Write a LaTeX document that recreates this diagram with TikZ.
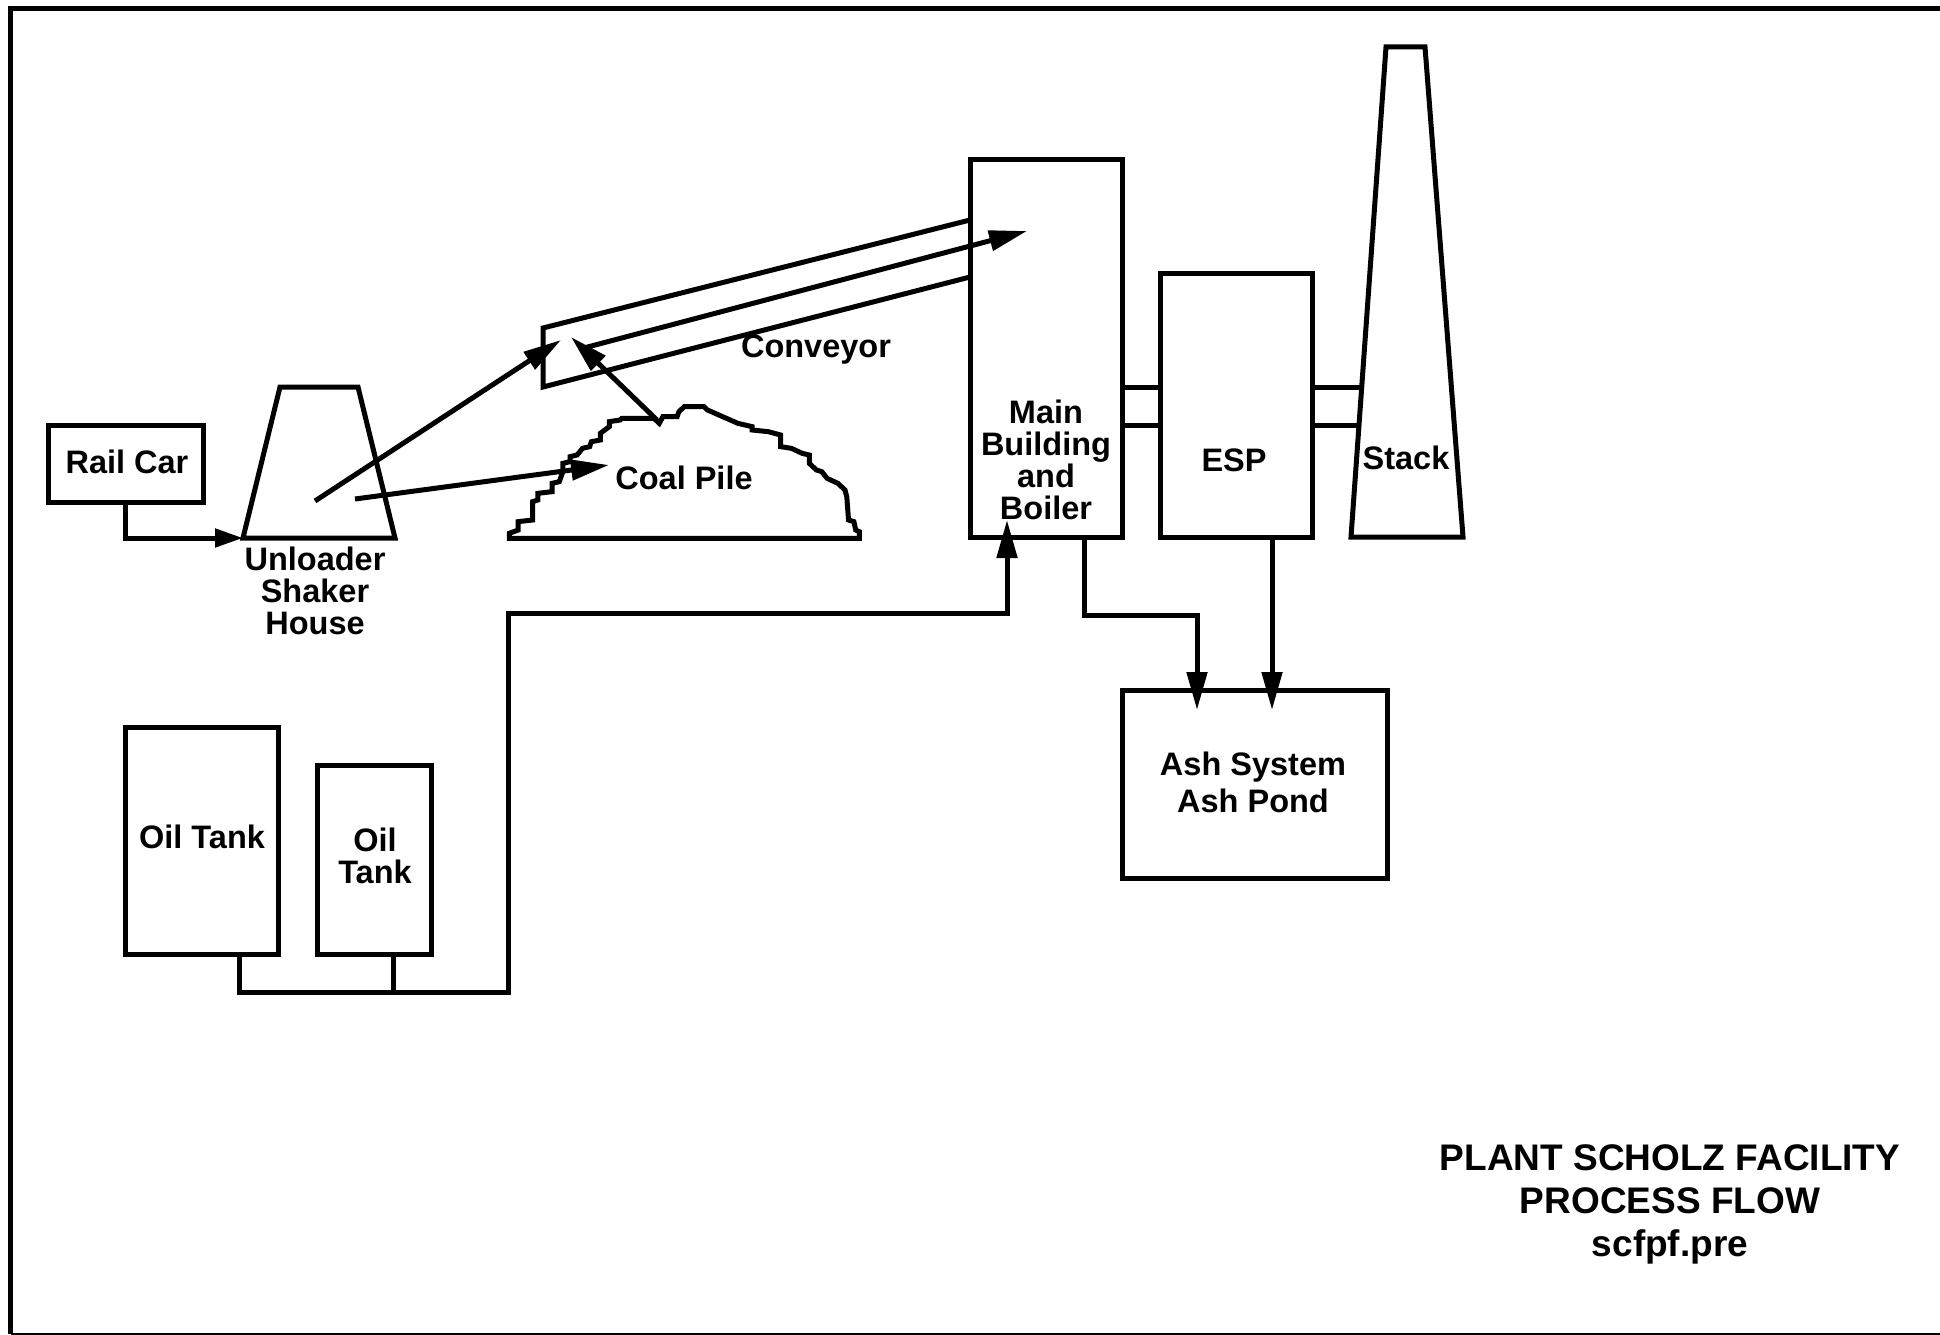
\documentclass[tikz,border=0pt]{standalone}
\usepackage{fontspec}
\setmainfont{Liberation Sans}
\usetikzlibrary{arrows.meta}
\begin{document}
\begin{tikzpicture}[x=1pt,y=-1pt,line width=5pt,line join=miter,
  box/.style={draw,line width=5pt,inner sep=0pt},
  lbl/.style={font=\fontsize{32.5}{32}\selectfont\bfseries,align=center,inner sep=0pt},
  flow/.style={-{Triangle[length=38pt,width=20pt]},line width=5pt},
  shortflow/.style={-{Triangle[length=28pt,width=18pt]},line width=5pt}]
\useasboundingbox (0,0) rectangle (1940,1335);
% frame
\draw[line width=5pt] (1940,9) -- (10.5,9) -- (10.5,1334);
\draw[line width=2pt] (10.5,1334) -- (1940,1334);

% boxes
\node[box,minimum width=155pt,minimum height=77pt] (rail) at (125.5,463.5) {};
\node[box,minimum width=152pt,minimum height=378pt] (main) at (1046,348) {};
\node[box,minimum width=152pt,minimum height=264pt] (esp) at (1236,405) {};
\node[box,minimum width=265pt,minimum height=188pt] (ash) at (1254.5,784) {};
\node[box,minimum width=153pt,minimum height=227pt] (tank1) at (201.5,840.5) {};
\node[box,minimum width=114pt,minimum height=189pt] (tank2) at (374,859.5) {};

% unloader
\coordinate (uTL) at (280,387);
\coordinate (uTR) at (358,387);
\coordinate (uBR) at (395,538);
\coordinate (uBL) at (243,538);
\draw (uBL) -- (uTL) -- (uTR) -- (uBR) -- cycle;

% stack
\coordinate (sTL) at (1386,47);
\coordinate (sTR) at (1425,47);
\coordinate (sBR) at (1463,537);
\coordinate (sBL) at (1351,537);
\draw (sBL) -- (sTL) -- (sTR) -- (sBR) -- cycle;

% conveyor
\coordinate (cTL) at (543,328);
\coordinate (cBL) at (543,387);
\coordinate (cTR) at (970,220);
\coordinate (cBR) at (970,277);
\draw (cTR) -- (cTL) -- (cBL) -- (cBR);

% coal pile
\begin{scope}[shift={(495,200)},xscale=1/2.8,yscale=1/3]
\draw (40,1015) -- (40,1000) -- (65,990) -- (65,965) -- (105,960) -- (105,905) -- (120,900) -- (120,880) -- (160,875) -- (160,850) -- (180,845) -- (190,815) -- (190,790) -- (210,785) -- (210,770) -- (230,765) -- (245,745) -- (265,740) -- (270,725) -- (295,720) -- (295,700) -- (320,680) -- (320,665) -- (350,660) -- (355,655) -- (445,655) -- (460,670) -- (470,650) -- (510,650) -- (515,635) -- (530,620) -- (585,620) -- (595,630) -- (680,670) -- (720,680) -- (720,690) -- (765,695) -- (800,705) -- (800,740) -- (830,745) -- (860,760) -- (880,765) -- (880,790) -- (900,810) -- (915,815) -- (930,835) -- (960,850) -- (980,870) -- (985,890) -- (990,960) -- (1005,965) -- (1010,990) -- (1020,995) -- (1020,1015) -- cycle;
\end{scope}

% connectors
\draw[shortflow] (rail.south) |- (uBL);
\coordinate (u1) at (315,501);
\coordinate (u2) at (355,499);
\coordinate (convIn) at (561,340);
\coordinate (pileIn) at (609,465);
\coordinate (pileTop) at (657,420);
\coordinate (convIn2) at (571,337);
\coordinate (convMid) at (580,349);
\coordinate (mainIn) at (1027,231);
\draw[flow] (u1) -- (convIn);
\draw[flow] (u2) -- (pileIn);
\draw[flow] (pileTop) -- (convIn2);
\draw[flow] (convMid) -- (mainIn);

% flue gas ducts
\draw (main.east |- 0,387) -- (esp.west |- 0,387);
\draw (main.east |- 0,425) -- (esp.west |- 0,425);
\draw (esp.east |- 0,387) -- (1361.7,387);
\draw (esp.east |- 0,425) -- (1359,425);

% oil line
\coordinate (t1o) at (239,954);
\coordinate (t2o) at (393,954);
\coordinate (oilIn) at (1007,520);
\draw[flow] (t1o) -- (239,992) -- (508,992) -- (508,613) -- (1007,613) -- (oilIn);
\draw (t2o) -- (393,992);

% ash lines
\coordinate (mainOut) at (1084,537);
\coordinate (espOut) at (1272,537);
\draw[flow] (mainOut) -- (1084,615) -- (1197,615) -- (1197,710);
\draw[flow] (espOut) -- (1272,710);

% labels
\node[lbl] (railL) at (127,462) {Rail Car};
\node[lbl] (unlL) at (315,591) {Unloader\\Shaker\\House};
\node[lbl] (convL) at (816,350) {Conveyor};
\node[lbl] (pileL) at (684,478) {Coal Pile};
\node[lbl] (mainL) at (1046,460) {Main\\Building\\and\\Boiler};
\node[lbl] (espL) at (1234,460) {ESP};
\node[lbl] (stackL) at (1406,458) {Stack};
\node[lbl,font=\fontsize{32.5}{37}\selectfont\bfseries] (ashL) at (1253,782) {Ash System\\Ash Pond};
\node[lbl] (t1L) at (202,837) {Oil Tank};
\node[lbl] (t2L) at (375,856) {Oil\\Tank};
\node[lbl,font=\fontsize{37}{43}\selectfont\bfseries] (title) at (1670,1204) {PLANT SCHOLZ FACILITY\\PROCESS FLOW\\scfpf.pre};
\end{tikzpicture}
\end{document}
